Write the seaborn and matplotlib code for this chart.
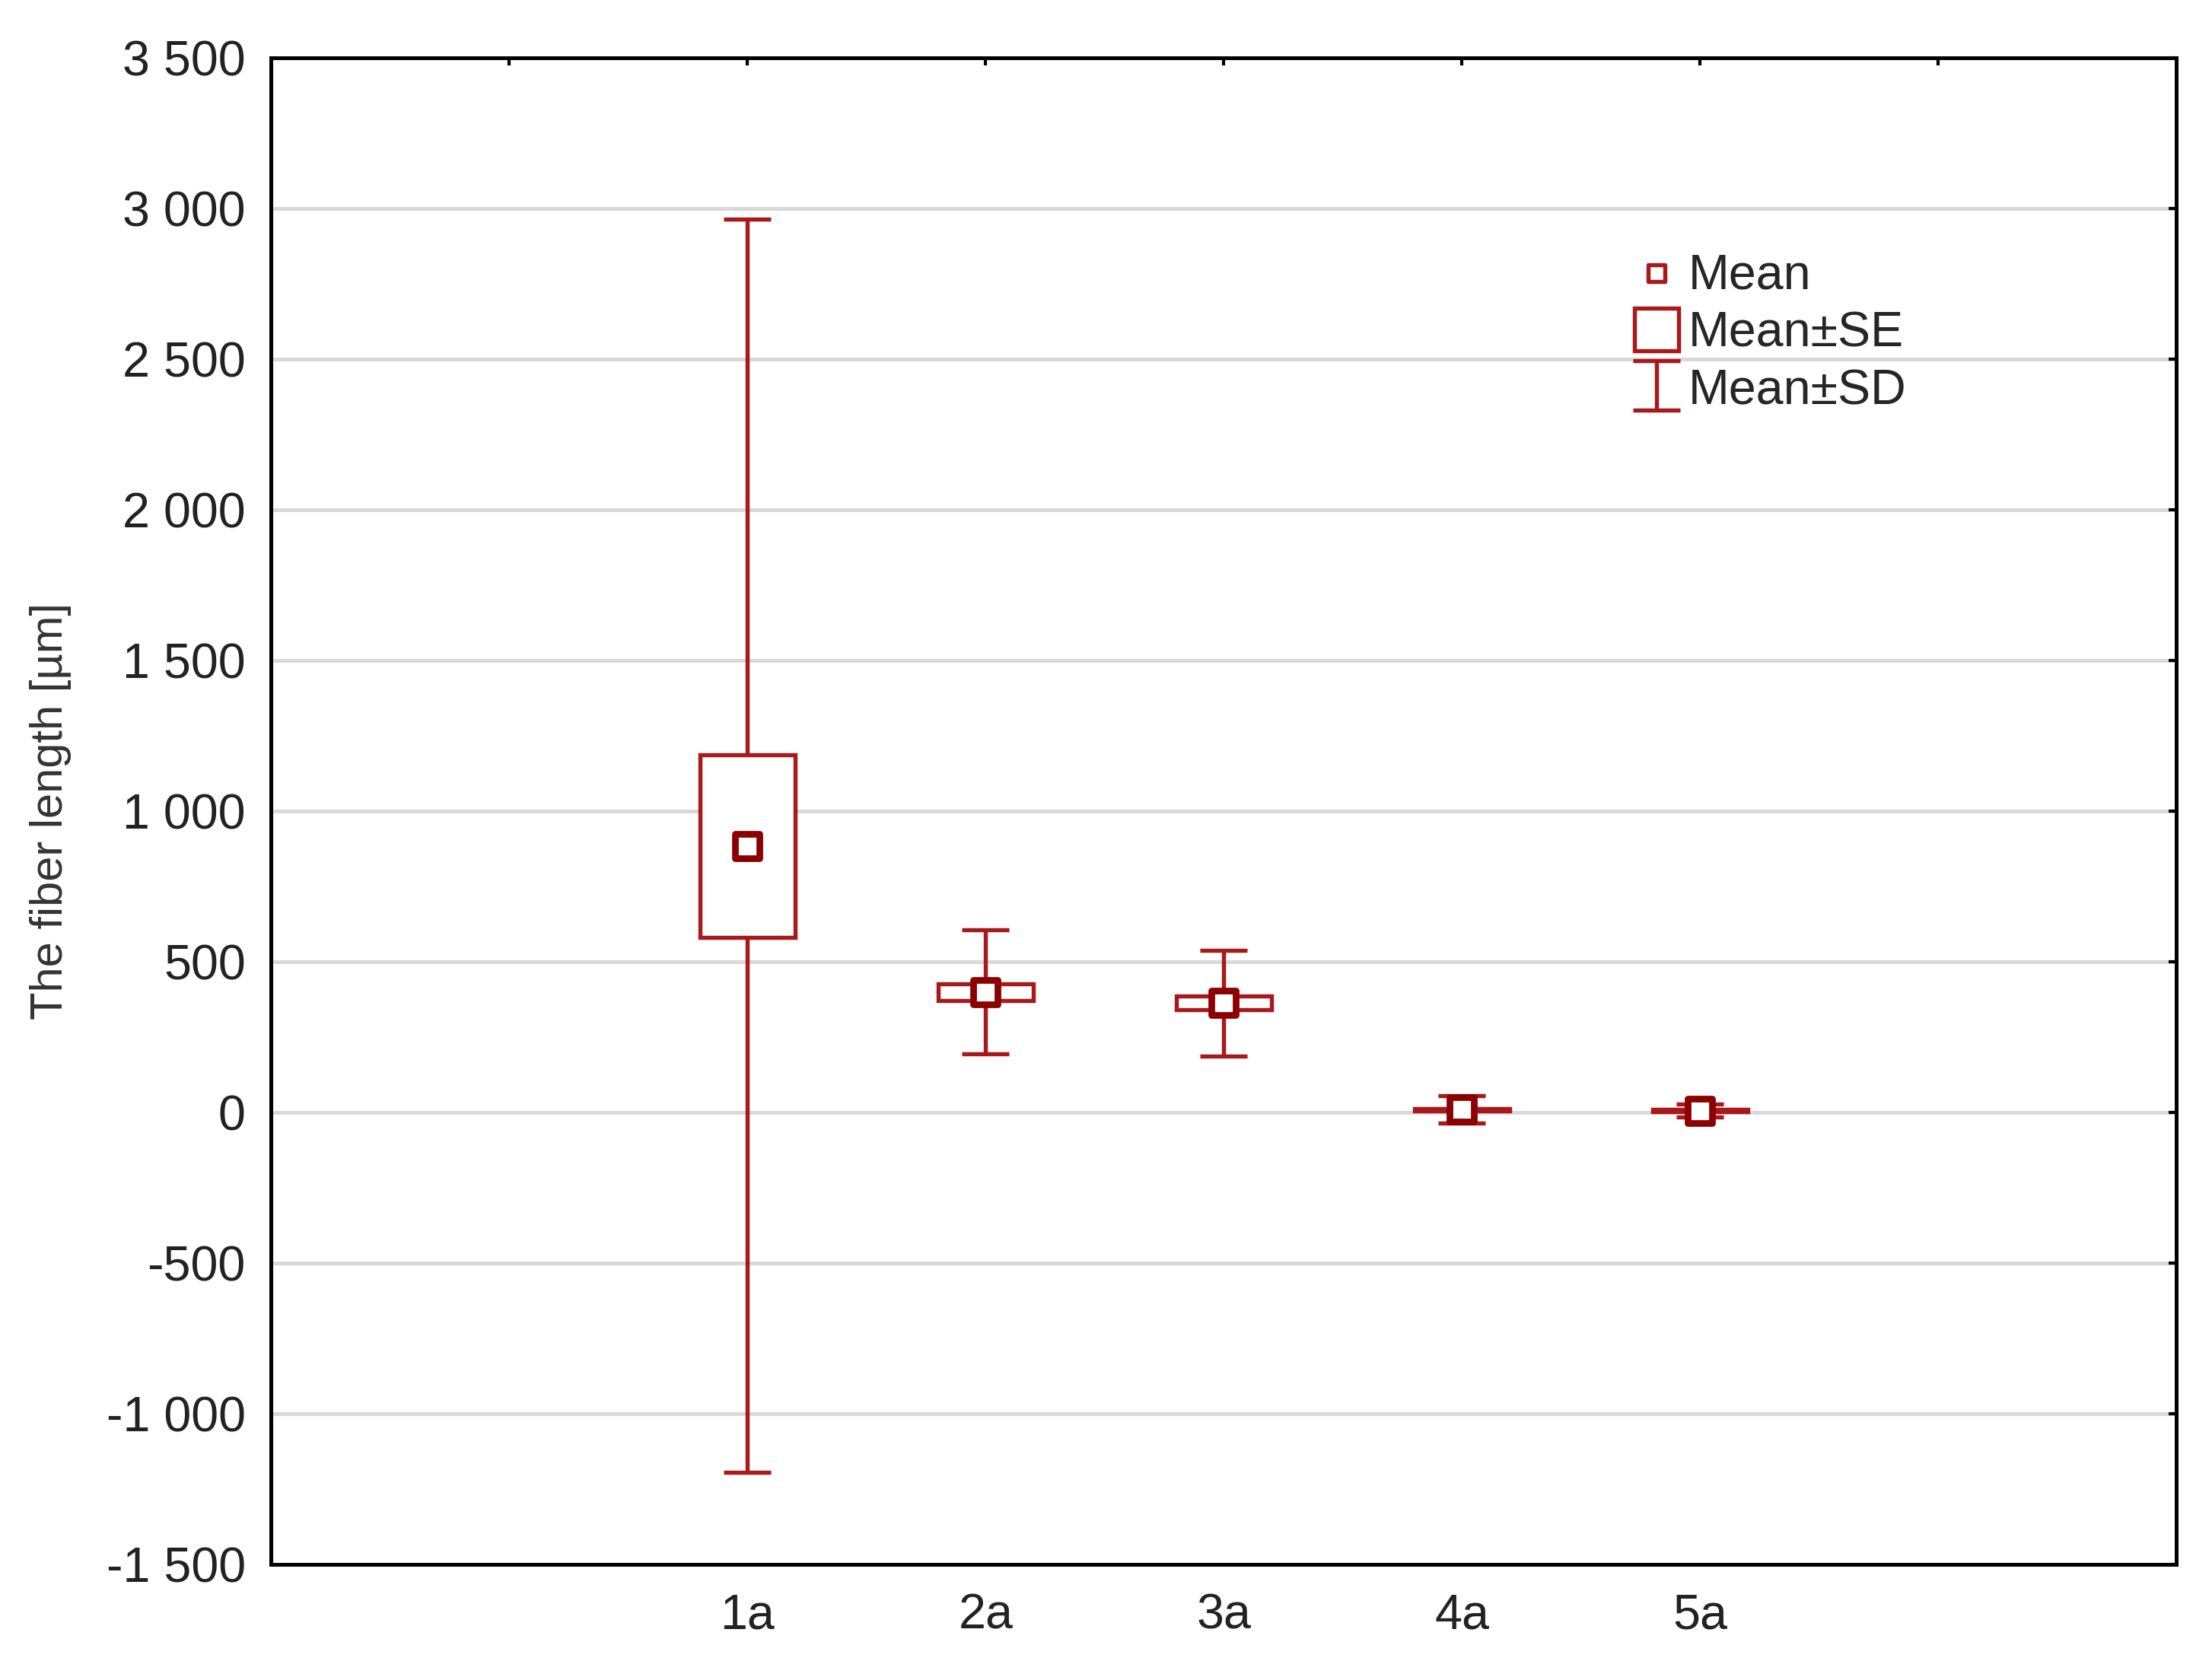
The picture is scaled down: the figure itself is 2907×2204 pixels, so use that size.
import numpy as np
import pandas as pd
import seaborn as sns
import matplotlib.pyplot as plt
from matplotlib.ticker import FuncFormatter

# values (µm)
groups = ["1a", "2a", "3a", "4a", "5a"]
mean_len = [885, 400, 363, 10, 6]
se_len = [303, 28, 23, 4, 3]
sd_len = [2080, 205, 175, 45, 22]

df = pd.DataFrame({"group": groups, "mean": mean_len, "se": se_len, "sd": sd_len})
df["pos"] = np.arange(1, len(df) + 1)

sns.set_theme(style="white")
plt.rcParams["font.family"] = ["Liberation Sans", "DejaVu Sans"]

red = "#a8191c"
dark = "#8b0000"

fig = plt.figure(figsize=(9.69, 7.347), dpi=300)
ax = fig.add_axes([0.1225, 0.0671, 0.8615, 0.8984])

# Mean ± SD whiskers
sd_h = ax.errorbar(df["pos"], df["mean"], yerr=df["sd"], fmt="none", ecolor=red,
                   elinewidth=1.3, capsize=7.5, capthick=1.3, zorder=2)

# Mean ± SE boxes
se_h = ax.bar(df["pos"], 2 * df["se"], bottom=df["mean"] - df["se"], width=0.4,
              facecolor="white", edgecolor=red, linewidth=1.3, zorder=3)

# Means
sns.scatterplot(data=df, x="pos", y="mean", marker="s", s=56, facecolor="white",
                edgecolor=dark, linewidth=2.1, zorder=4, ax=ax, legend=False)
mean_h = ax.collections[-1]

ax.set_xlim(-1, 7)
ax.set_xticks(range(0, len(groups) + 2))
ax.set_xticklabels([""] + groups + [""])
ax.set_ylim(-1500, 3500)
ax.set_yticks(np.arange(-1500, 3501, 500))
ax.yaxis.set_major_formatter(FuncFormatter(lambda v, p: f"{int(v):,}".replace(",", " ")))
ax.set_xlabel("")
ax.set_ylabel("The fiber length [µm]", fontsize=14.3, color="#333333", labelpad=11)

ax.yaxis.grid(True, color="#d9d9d9", linewidth=1.2)
ax.xaxis.grid(False)
ax.set_axisbelow(True)
ax.tick_params(axis="both", direction="in", length=2.5, width=1.0, top=True, right=True,
               labelsize=15.5, colors="black", labelcolor="#222222")
ax.tick_params(axis="x", pad=9)
ax.tick_params(axis="y", pad=8)
for sp in ax.spines.values():
    sp.set_color("black")
    sp.set_linewidth(1.2)

leg = ax.legend(handles=[mean_h, se_h, sd_h], labels=["Mean", "Mean±SE", "Mean±SD"],
                loc="upper left", bbox_to_anchor=(0.705, 0.885), frameon=False, fontsize=15.5,
                handlelength=0.9, handleheight=0.95, handletextpad=0.2, labelspacing=0.2,
                borderaxespad=0)
# smaller, thinner mean symbol in the key
leg.legend_handles[0].set_sizes([28])
leg.legend_handles[0].set_linewidth(1.3)
leg.legend_handles[0].set_edgecolor(red)

fig.savefig("out.png", dpi=300)
